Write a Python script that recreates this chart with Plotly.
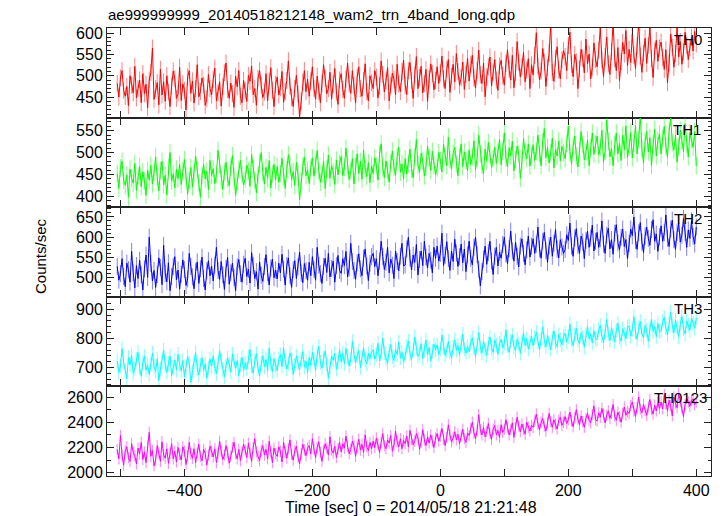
import plotly.graph_objects as go
from plotly.subplots import make_subplots

# ---------------- data ----------------
T_START = -505   # first bin time [sec]
T_STEP = 2.5     # bin width [sec]

TH0 = [482, 450, 495, 512, 466, 452, 475, 430, 500, 478, 460, 522, 448, 470, 490, 437, 505, 458, 480, 425,
       490, 508, 565, 445, 470, 484, 432, 515, 455, 486, 440, 500, 462, 428, 476, 511, 493, 447, 458, 520,
       442, 481, 466, 420, 497, 512, 459, 488, 436, 470, 526, 451, 463, 495, 478, 431, 446, 503, 470, 455,
       492, 518, 441, 460, 486, 429, 475, 507, 530, 468, 447, 483, 458, 426, 499, 474, 512, 452, 437, 489,
       465, 440, 501, 487, 523, 456, 470, 431, 494, 512, 478, 449, 462, 505, 441, 487, 519, 466, 428, 480,
       497, 455, 472, 510, 438, 463, 489, 535, 476, 449, 428, 470, 501, 458, 403, 441, 485, 512, 463, 492,
       452, 488, 521, 470, 445, 499, 463, 437, 482, 526, 494, 458, 470, 508, 445, 480, 517, 462, 433, 490,
       505, 468, 447, 492, 530, 481, 459, 512, 478, 436, 497, 521, 470, 452, 489, 528, 463, 441, 500, 484,
       470, 512, 497, 448, 476, 535, 503, 462, 488, 519, 441, 478, 506, 492, 455, 527, 481, 463, 510, 537,
       478, 456, 512, 531, 489, 447, 502, 545, 470, 496, 522, 460, 482, 515, 440, 493, 528, 505, 467, 489,
       521, 482, 507, 546, 493, 470, 515, 538, 461, 499, 527, 486, 552, 510, 478, 495, 532, 468, 503, 541,
       488, 526, 548, 495, 471, 513, 560, 502, 482, 530, 451, 497, 521, 544, 476, 509, 538, 490, 466, 523,
       536, 500, 478, 529, 561, 515, 490, 548, 472, 507, 580, 532, 497, 521, 555, 486, 513, 540, 470, 526,
       502, 548, 601, 523, 490, 511, 564, 532, 475, 519, 553, 622, 508, 487, 541, 568, 514, 493, 537, 559,
       545, 512, 571, 602, 527, 498, 550, 533, 470, 516, 562, 541, 507, 586, 528, 551, 493, 520, 577, 538,
       521, 560, 612, 537, 498, 545, 591, 528, 503, 557, 625, 540, 512, 566, 489, 533, 578, 551, 606, 524,
       562, 531, 597, 548, 517, 570, 625, 546, 508, 553, 588, 529, 571, 612, 540, 496, 558, 583, 534, 565,
       579, 542, 515, 561, 484, 530, 598, 567, 520, 553, 612, 544, 580, 527, 556, 602, 571, 538, 566, 590,
       558, 604, 575]

TH1 = [452, 418, 465, 480, 437, 425, 449, 398, 462, 441, 430, 475, 413, 447, 468, 422, 456, 435, 402, 460,
       437, 471, 428, 455, 490, 443, 412, 459, 480, 426, 448, 403, 466, 500, 435, 451, 419, 462, 440, 473,
       427, 458, 484, 446, 405, 437, 466, 421, 452, 492, 460, 431, 398, 447, 473, 440, 457, 415, 482, 448,
       463, 429, 450, 505, 472, 438, 416, 455, 478, 440, 424, 467, 493, 446, 402, 433, 461, 482, 450, 426,
       440, 471, 458, 423, 496, 462, 437, 408, 449, 476, 500, 454, 428, 466, 441, 482, 419, 451, 473, 437,
       468, 432, 452, 487, 445, 418, 461, 495, 470, 439, 456, 425, 478, 450, 392, 436, 468, 490, 447, 460,
       429, 465, 488, 446, 472, 505, 458, 432, 451, 480, 418, 462, 494, 441, 470, 456, 427, 483, 449, 475,
       491, 447, 466, 510, 472, 438, 459, 486, 428, 468, 497, 452, 480, 439, 506, 463, 445, 477, 431, 469,
       452, 488, 470, 437, 497, 520, 465, 443, 481, 459, 432, 476, 503, 466, 448, 491, 512, 455, 474, 440,
       486, 451, 475, 508, 463, 442, 490, 530, 472, 455, 498, 481, 446, 467, 515, 488, 459, 503, 471, 449,
       465, 500, 482, 456, 519, 491, 470, 535, 484, 462, 498, 512, 474, 447, 489, 520, 468, 501, 482, 458,
       506, 473, 490, 527, 461, 488, 540, 497, 471, 452, 508, 481, 523, 495, 466, 486, 512, 475, 499, 530,
       472, 503, 545, 488, 467, 511, 493, 526, 458, 484, 515, 497, 441, 479, 532, 501, 486, 520, 469, 494,
       518, 482, 503, 540, 497, 470, 525, 555, 488, 512, 476, 499, 533, 465, 508, 492, 527, 481, 514, 500,
       486, 521, 560, 502, 473, 514, 538, 492, 467, 505, 548, 519, 483, 500, 529, 470, 512, 545, 496, 520,
       538, 495, 512, 551, 478, 503, 575, 526, 490, 509, 470, 518, 545, 497, 522, 482, 540, 506, 561, 489,
       512, 546, 488, 521, 562, 497, 530, 585, 509, 476, 525, 548, 501, 534, 470, 519, 553, 492, 528, 542,
       497, 533, 560, 515, 489, 548, 580, 522, 506, 540, 478, 513, 551, 528, 502, 566, 519, 490, 545, 530,
       512, 548, 470]

TH2 = [528, 494, 510, 547, 503, 478, 536, 520, 489, 565, 512, 475, 530, 498, 543, 507, 470, 522, 556, 501,
       600, 535, 492, 518, 476, 508, 549, 525, 483, 580, 511, 490, 537, 468, 503, 528, 552, 495, 519, 472,
       509, 544, 520, 481, 497, 560, 528, 502, 473, 515, 539, 486, 522, 551, 498, 470, 517, 542, 505, 528,
       492, 531, 575, 518, 496, 540, 507, 471, 523, 550, 484, 512, 536, 501, 468, 527, 545, 510, 489, 533,
       548, 503, 521, 487, 562, 530, 498, 515, 472, 539, 506, 491, 528, 557, 513, 482, 524, 546, 500, 519,
       497, 536, 512, 558, 521, 482, 530, 549, 505, 476, 520, 542, 498, 527, 563, 511, 488, 535, 517, 494,
       538, 505, 552, 520, 494, 575, 531, 510, 486, 528, 548, 513, 560, 502, 523, 541, 489, 530, 555, 518,
       511, 547, 530, 565, 502, 524, 585, 540, 518, 496, 537, 559, 522, 505, 548, 571, 529, 493, 535, 552,
       560, 528, 547, 505, 541, 590, 552, 520, 538, 575, 512, 546, 531, 498, 566, 540, 517, 553, 585, 529,
       532, 571, 600, 548, 519, 556, 538, 582, 507, 545, 566, 530, 590, 551, 524, 560, 543, 512, 575, 548,
       578, 541, 560, 610, 530, 555, 589, 547, 518, 566, 540, 595, 561, 528, 552, 583, 537, 571, 515, 556,
       590, 548, 532, 575, 600, 557, 521, 480, 515, 546, 578, 533, 562, 590, 541, 508, 553, 575, 529, 563,
       548, 582, 600, 559, 535, 572, 615, 566, 541, 588, 553, 527, 578, 596, 560, 532, 569, 603, 551, 578,
       596, 560, 583, 625, 571, 548, 590, 612, 567, 538, 579, 600, 553, 585, 619, 571, 549, 594, 576, 560,
       570, 606, 592, 635, 578, 553, 598, 621, 580, 560, 603, 588, 547, 592, 615, 575, 598, 630, 566, 590,
       612, 575, 596, 640, 583, 560, 605, 622, 571, 594, 558, 610, 631, 586, 569, 600, 620, 577, 594, 547,
       585, 620, 604, 650, 592, 570, 611, 636, 588, 562, 603, 625, 597, 580, 619, 643, 590, 608, 565, 601,
       628, 590, 611, 655, 598, 577, 620, 642, 594, 570, 612, 634, 588, 605, 646, 612, 575, 618, 597, 640,
       602, 583, 625]

TH3 = [722, 683, 705, 765, 718, 690, 662, 735, 709, 741, 680, 697, 728, 752, 699, 670, 716, 738, 691, 708,
       676, 712, 749, 703, 687, 730, 655, 694, 721, 760, 708, 683, 714, 739, 672, 700, 726, 691, 745, 710,
       689, 724, 668, 702, 737, 715, 649, 686, 720, 751, 697, 674, 709, 733, 690, 712, 663, 698, 729, 705,
       740, 702, 679, 716, 758, 725, 693, 668, 705, 733, 711, 684, 746, 719, 697, 724, 672, 708, 735, 690,
       716, 694, 735, 762, 705, 681, 723, 748, 697, 671, 714, 740, 702, 728, 690, 767, 712, 686, 730, 705,
       689, 727, 744, 703, 768, 721, 695, 714, 750, 730, 676, 708, 739, 716, 692, 727, 755, 701, 722, 683,
       735, 708, 752, 726, 690, 744, 772, 718, 698, 731, 757, 712, 663, 702, 739, 725, 748, 694, 720, 762,
       720, 749, 713, 766, 738, 705, 728, 790, 745, 716, 740, 758, 700, 735, 768, 726, 712, 748, 731, 754,
       761, 729, 745, 783, 722, 748, 800, 751, 730, 715, 756, 779, 737, 724, 762, 745, 788, 733, 752, 720,
       740, 772, 791, 748, 727, 760, 805, 766, 738, 750, 782, 731, 758, 795, 743, 769, 722, 756, 780, 761,
       778, 745, 763, 812, 770, 741, 758, 790, 752, 733, 768, 795, 759, 776, 742, 785, 815, 764, 749, 772,
       755, 786, 802, 767, 738, 776, 820, 771, 750, 790, 763, 742, 781, 805, 768, 752, 794, 777, 746, 783,
       796, 768, 784, 830, 775, 752, 791, 812, 770, 758, 797, 781, 749, 788, 820, 776, 799, 763, 786, 808,
       775, 803, 822, 789, 760, 798, 840, 792, 771, 810, 785, 762, 801, 826, 787, 770, 813, 795, 778, 806,
       818, 788, 806, 850, 797, 775, 812, 835, 794, 781, 820, 803, 770, 809, 842, 798, 815, 784, 826, 800,
       796, 829, 845, 808, 785, 822, 865, 817, 793, 836, 810, 788, 828, 852, 806, 790, 833, 815, 798, 840,
       842, 808, 830, 875, 820, 797, 837, 858, 815, 803, 845, 828, 790, 832, 866, 824, 840, 806, 851, 825,
       825, 858, 872, 836, 812, 850, 890, 843, 820, 862, 838, 805, 848, 876, 832, 815, 860, 845, 828, 870,
       852, 835, 870]

TH0123 = [2185, 2110, 2295, 2140, 2060, 2175, 2205, 2120, 2090, 2230, 2160, 2135, 2070, 2195, 2150, 2240, 2105, 2165, 2080, 2210,
          2320, 2130, 2175, 2055, 2100, 2215, 2160, 2090, 2245, 2140, 2115, 2190, 2075, 2155, 2230, 2110, 2170, 2085, 2200, 2145,
          2100, 2205, 2170, 2065, 2135, 2240, 2150, 2115, 2190, 2080, 2160, 2225, 2130, 2095, 2185, 2155, 2060, 2140, 2210, 2170,
          2125, 2190, 2080, 2155, 2250, 2170, 2105, 2140, 2215, 2160, 2075, 2130, 2200, 2240, 2150, 2110, 2185, 2095, 2165, 2225,
          2180, 2120, 2235, 2155, 2090, 2200, 2270, 2165, 2130, 2095, 2175, 2215, 2140, 2185, 2110, 2250, 2165, 2080, 2195, 2150,
          2130, 2205, 2170, 2085, 2240, 2160, 2115, 2190, 2260, 2145, 2100, 2175, 2210, 2125, 2070, 2150, 2225, 2180, 2135, 2195,
          2215, 2150, 2270, 2185, 2120, 2200, 2245, 2160, 2090, 2175, 2230, 2195, 2140, 2285, 2180, 2155, 2210, 2120, 2190, 2240,
          2165, 2230, 2195, 2290, 2210, 2150, 2185, 2250, 2215, 2130, 2200, 2265, 2180, 2225, 2160, 2300, 2205, 2175, 2240, 2190,
          2250, 2200, 2275, 2225, 2160, 2240, 2310, 2215, 2190, 2260, 2235, 2295, 2170, 2220, 2330, 2245, 2205, 2270, 2190, 2255,
          2230, 2290, 2205, 2335, 2265, 2220, 2250, 2310, 2275, 2185, 2245, 2340, 2260, 2215, 2285, 2235, 2300, 2250, 2200, 2275,
          2310, 2250, 2290, 2350, 2265, 2215, 2280, 2380, 2300, 2245, 2275, 2325, 2260, 2305, 2230, 2290, 2345, 2270, 2240, 2315,
          2295, 2350, 2400, 2315, 2270, 2335, 2460, 2340, 2300, 2360, 2285, 2325, 2390, 2310, 2265, 2345, 2375, 2300, 2335, 2280,
          2380, 2320, 2345, 2420, 2360, 2300, 2340, 2395, 2280, 2355, 2440, 2370, 2325, 2385, 2345, 2305, 2400, 2360, 2330, 2375,
          2360, 2410, 2465, 2385, 2340, 2400, 2430, 2370, 2330, 2395, 2470, 2405, 2360, 2420, 2385, 2345, 2415, 2440, 2375, 2400,
          2445, 2390, 2420, 2480, 2410, 2365, 2435, 2500, 2425, 2380, 2450, 2405, 2360, 2430, 2470, 2415, 2395, 2460, 2530, 2420,
          2410, 2475, 2440, 2510, 2460, 2395, 2455, 2490, 2430, 2470, 2540, 2450, 2415, 2480, 2445, 2400, 2470, 2520, 2455, 2485,
          2470, 2530, 2560, 2490, 2445, 2515, 2600, 2505, 2475, 2540, 2495, 2455, 2520, 2580, 2500, 2465, 2535, 2490, 2555, 2510,
          2560, 2505, 2620, 2545, 2490, 2575, 2530, 2450, 2600, 2550, 2515, 2630, 2565, 2520, 2445, 2540, 2590, 2560, 2525, 2575,
          2585, 2540, 2560]

BAND_NAMES = ["TH0", "TH1", "TH2", "TH3", "TH0123"]
BAND_VALUES = [TH0, TH1, TH2, TH3, TH0123]
BAND_ERRORS = [20, 20, 21, 25, 45]          # typical 1-sigma error bar per band

X_TICKS = [-500, -400, -300, -200, -100, 0, 100, 200, 300, 400]
X_TICK_TEXT = ["", "\u2212400", "", "\u2212200", "", "0", "", "200", "", "400"]

TITLE = "ae999999999_20140518212148_wam2_trn_4band_long.qdp"
X_TITLE = "Time [sec] 0 = 2014/05/18 21:21:48"
Y_TITLE = "Counts/sec"

# ---------------- styles ----------------
COLORS = ["#ff0000", "#00ff00", "#0000ff", "#00ffff", "#ff00ff"]
ERR_COLORS = ["rgba(255,0,0,0.5)", "rgba(0,255,0,0.5)", "rgba(0,0,255,0.5)",
              "rgba(0,255,255,0.5)", "rgba(255,0,255,0.5)"]
Y_RANGES = [[402, 612], [375, 580], [453, 674], [635, 943], [1974, 2684]]
Y_DTICK = [50, 50, 50, 100, 200]
Y_MINOR = [10, 10, 10, 20, 100]
X_RANGE = [-521, 423]
FONT = "Liberation Sans, Arial, Helvetica, sans-serif"
AXIS_COLOR = "#222222"

W, H = 724, 516
ML, MR, MT, MB = 107, 13, 28, 40
PLOT_H = H - MT - MB
PLOT_W = W - ML - MR

fig = make_subplots(rows=5, cols=1, shared_xaxes=True, vertical_spacing=0)

for i, (name, vals) in enumerate(zip(BAND_NAMES, BAND_VALUES)):
    row = i + 1
    times = [T_START + T_STEP * k for k in range(len(vals))]
    fig.add_trace(go.Scatter(
        x=times, y=vals, mode="lines", name=name,
        line=dict(color=COLORS[i], width=1),
        error_y=dict(type="constant", value=BAND_ERRORS[i], color=ERR_COLORS[i],
                     thickness=1, width=0),
        showlegend=False, hoverinfo="x+y"), row=row, col=1)
    fig.update_yaxes(
        range=Y_RANGES[i], dtick=Y_DTICK[i], tick0=0,
        ticks="inside", ticklen=7, tickwidth=1, tickcolor=AXIS_COLOR,
        showline=True, linecolor=AXIS_COLOR, linewidth=1, mirror="allticks",
        showgrid=False, zeroline=False,
        minor=dict(dtick=Y_MINOR[i], ticks="inside", ticklen=3.5, tickcolor=AXIS_COLOR,
                   showgrid=False),
        tickfont=dict(family=FONT, size=16, color="black"),
        row=row, col=1)
    fig.update_xaxes(
        range=X_RANGE, tickvals=X_TICKS, ticktext=X_TICK_TEXT,
        ticks="inside", ticklen=7, tickwidth=1, tickcolor=AXIS_COLOR,
        showline=True, linecolor=AXIS_COLOR, linewidth=1, mirror="allticks",
        showgrid=False, zeroline=False,
        showticklabels=(row == 5),
        tickfont=dict(family=FONT, size=16, color="black"),
        row=row, col=1)

def py(pixel_y):
    return (H - MB - pixel_y) / PLOT_H

def px(pixel_x):
    return (pixel_x - ML) / PLOT_W

annotations = []
label_right = [704, 703, 704, 704, 709]
for i, name in enumerate(BAND_NAMES):
    top = MT + i * PLOT_H / 5
    annotations.append(dict(text=name, xref="paper", yref="paper",
                            x=px(label_right[i]), y=py(top + 1), xanchor="right", yanchor="top",
                            showarrow=False, font=dict(family=FONT, size=15, color="black")))
annotations.append(dict(text=TITLE, xref="paper", yref="paper", x=px(106), y=py(15),
                        xanchor="left", yanchor="middle", showarrow=False,
                        font=dict(family=FONT, size=15, color="black")))
annotations.append(dict(text=X_TITLE, xref="paper", yref="paper", x=px(411), y=py(507),
                        xanchor="center", yanchor="middle", showarrow=False,
                        font=dict(family=FONT, size=16, color="black")))
annotations.append(dict(text=Y_TITLE, xref="paper", yref="paper", x=px(40), y=py(256),
                        xanchor="center", yanchor="middle", textangle=-90, showarrow=False,
                        font=dict(family=FONT, size=15, color="black")))

fig.update_layout(
    width=W, height=H, margin=dict(l=ML, r=MR, t=MT, b=MB),
    paper_bgcolor="white", plot_bgcolor="white",
    annotations=annotations, font=dict(family=FONT, color="black"),
)

fig.write_html("out.html", config={"displayModeBar": False},
               post_script="document.body.style.margin='0px';")
